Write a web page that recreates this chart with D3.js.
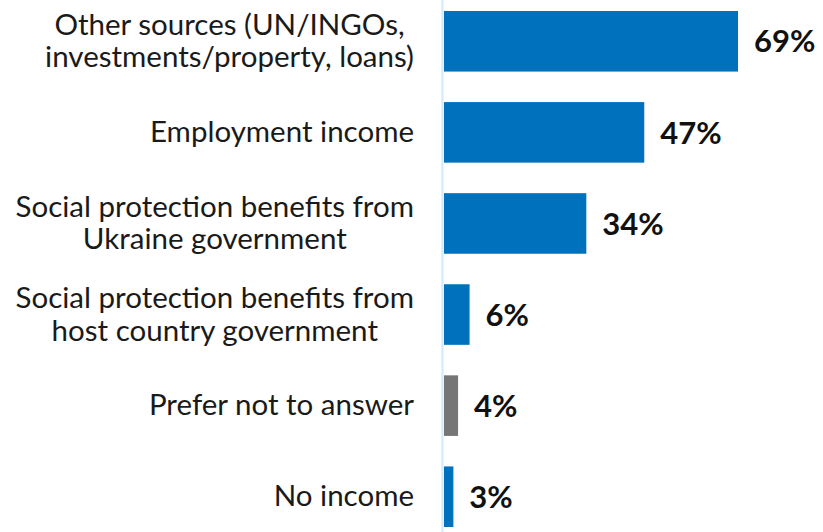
<!DOCTYPE html>
<html>
<head>
<meta charset="utf-8">
<script src="https://cdn.jsdelivr.net/npm/d3@7"></script>
<style>
  html, body { margin: 0; padding: 0; background: #fff; }
  svg { display: block; }
</style>
</head>
<body>
<svg id="chart" width="823" height="532"></svg>
<script>
const categories = [
  ["Other sources (UN/INGOs,", "investments/property, loans)"],
  ["Employment income"],
  ["Social protection benefits from", "Ukraine government"],
  ["Social protection benefits from", "host country government"],
  ["Prefer not to answer"],
  ["No income"]
];
const values = [69, 47, 33.4, 6, 3.3, 2.2];
const valueLabels = ["69%", "47%", "34%", "6%", "4%", "3%"];
const barColors = ["#0071bc", "#0071bc", "#0071bc", "#0071bc", "#767676", "#0071bc"];

const svg = d3.select("#chart");
const W = 823, H = 532;
const idx = d3.range(categories.length);

const x = d3.scaleLinear().domain([0, 69]).range([444, 738]);
const y = d3.scaleBand().domain(idx).range([11, 527]).paddingInner(0.335).paddingOuter(0);

// axis line
svg.append("line")
  .attr("x1", 442.5).attr("x2", 442.5)
  .attr("y1", 0).attr("y2", H)
  .attr("stroke", "#d3e8f8").attr("stroke-width", 2);

svg.selectAll("rect.bar").data(idx).enter().append("rect")
  .attr("class", "bar")
  .attr("x", x(0))
  .attr("y", i => y(i))
  .attr("width", i => x(values[i]) - x(0))
  .attr("height", y.bandwidth())
  .attr("fill", i => barColors[i]);

svg.selectAll("text.val").data(idx).enter().append("text")
  .attr("class", "val")
  .attr("x", i => x(values[i]) + 16)
  .attr("y", i => y(i) + y.bandwidth() / 2)
  .attr("dy", "0.36em")
  .attr("font-family", "Lato, sans-serif")
  .attr("font-weight", "bold")
  .attr("font-size", 31)
  .attr("fill", "#111")
  .text(i => valueLabels[i]);

const lineH = 32.5;
const labelRight = 414;
const lab = svg.selectAll("text.lab").data(idx).enter().append("text")
  .attr("class", "lab")
  .attr("text-anchor", "middle")
  .attr("font-family", "Lato, sans-serif")
  .attr("font-size", 29.5)
  .attr("fill", "#1a1a1a");
lab.each(function(i) {
  const lines = categories[i];
  const cy = y(i) + y.bandwidth() / 2;
  const n = lines.length;
  const g = d3.select(this);
  const spans = g.selectAll("tspan").data(lines).enter().append("tspan")
    .attr("y", (d, k) => cy + (k - (n - 1) / 2) * lineH)
    .attr("dy", "0.33em")
    .text(d => d);
  let maxW = 0;
  spans.each(function() { maxW = Math.max(maxW, this.getComputedTextLength()); });
  spans.attr("x", labelRight - maxW / 2);
});
</script>
</body>
</html>
